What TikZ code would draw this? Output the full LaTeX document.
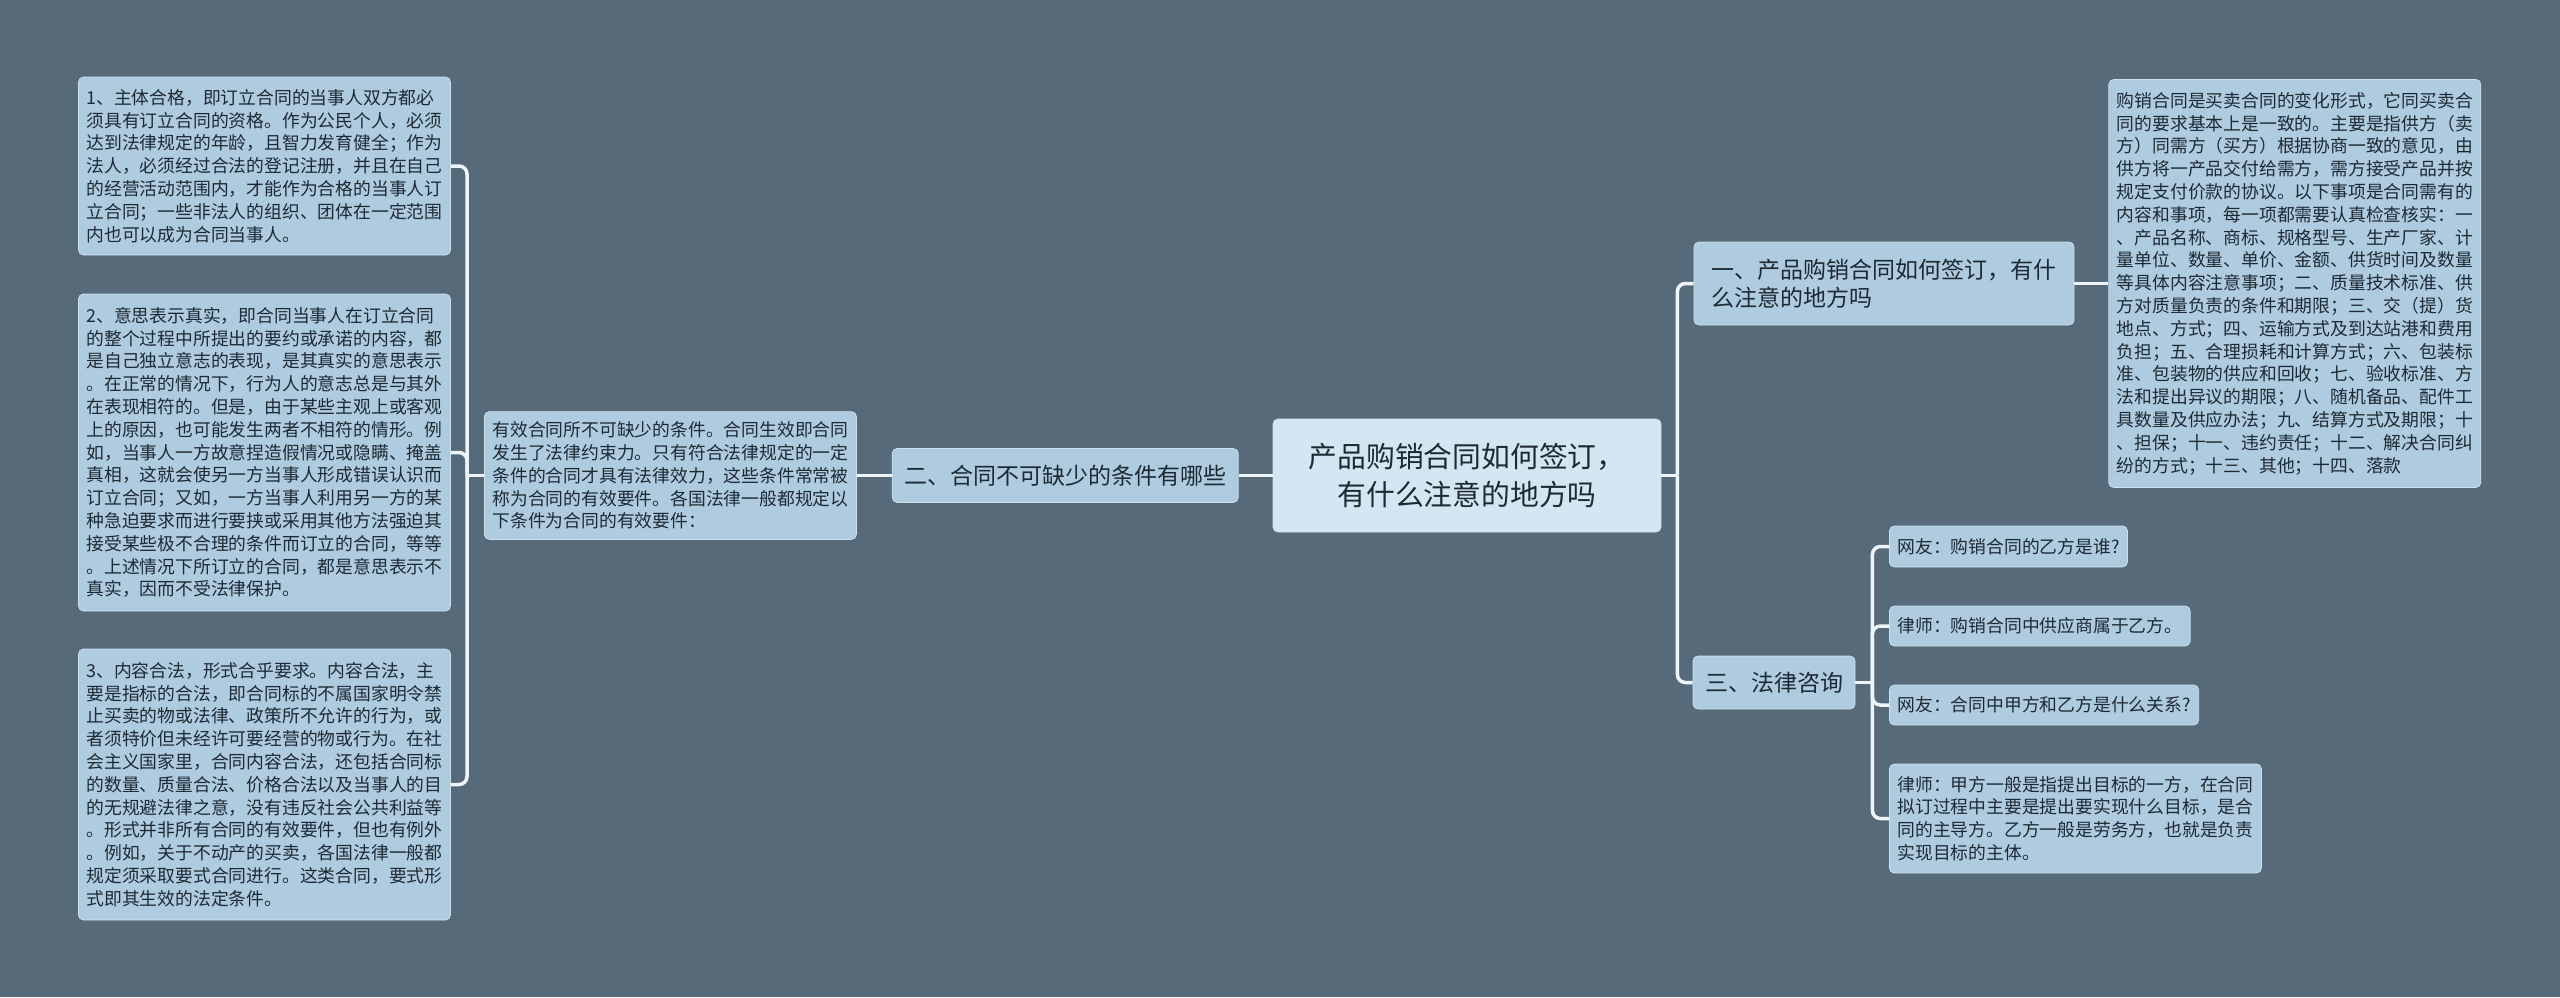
\documentclass[tikz,border=0pt]{standalone}
\usepackage{fontspec}
\setmainfont{Noto Sans CJK SC}
\usepackage{xcolor}
\usepackage{tikz}
\usetikzlibrary{positioning}

\definecolor{bgc}{HTML}{566A79}
\definecolor{nodefill}{HTML}{AECBE0}
\definecolor{rootfill}{HTML}{D3E7F3}
\definecolor{linec}{HTML}{EEF5FA}
\definecolor{textc}{HTML}{1E2A33}

\begin{document}
\begin{tikzpicture}[
    x=0.5pt, y=-0.5pt,
    leaf/.style={rectangle, rounded corners=2.5pt, fill=nodefill,
                 draw=nodefill!60!white, line width=0.4pt, text=textc,
                 font=\fontsize{8.9}{11.4}\selectfont, align=left,
                 inner xsep=4pt, inner ysep=5pt},
    topic/.style={leaf, font=\fontsize{11.5}{14}\selectfont,
                  inner xsep=6pt, inner ysep=6pt},
    central/.style={leaf, fill=rootfill, font=\fontsize{14.4}{19}\selectfont,
                    align=center, minimum width=194pt, minimum height=56.5pt},
    link/.style={draw=linec, line width=1.75pt, rounded corners=4pt},
    node distance=17pt
]
\fill[bgc] (0,0) rectangle (2560,997);
\useasboundingbox (0,0) rectangle (2560,997);

% centre
\node[central] (root) at (1467,475.5) {产品购销合同如何签订，\\ 有什么注意的地方吗};

% left branch
\node[topic, left=of root, minimum height=27pt] (cond) {二、合同不可缺少的条件有哪些};
\node[leaf, left=17.5pt of cond] (mid) {有效合同所不可缺少的条件。合同生效即合同\\
发生了法律约束力。只有符合法律规定的一定\\
条件的合同才具有法律效力，这些条件常常被\\
称为合同的有效要件。各国法律一般都规定以\\
下条件为合同的有效要件：};

\node[leaf, minimum height=89pt] (c1) at (264.5,166) {1、主体合格，即订立合同的当事人双方都必\\
须具有订立合同的资格。作为公民个人，必须\\
达到法律规定的年龄，且智力发育健全；作为\\
法人，必须经过合法的登记注册，并且在自己\\
的经营活动范围内，才能作为合格的当事人订\\
立合同；一些非法人的组织、团体在一定范围\\
内也可以成为合同当事人。};
\node[leaf, minimum height=158.5pt] (c2) at (264.5,452.5) {2、意思表示真实，即合同当事人在订立合同\\
的整个过程中所提出的要约或承诺的内容，都\\
是自己独立意志的表现，是其真实的意思表示\\
。在正常的情况下，行为人的意志总是与其外\\
在表现相符的。但是，由于某些主观上或客观\\
上的原因，也可能发生两者不相符的情形。例\\
如，当事人一方故意捏造假情况或隐瞒、掩盖\\
真相，这就会使另一方当事人形成错误认识而\\
订立合同；又如，一方当事人利用另一方的某\\
种急迫要求而进行要挟或采用其他方法强迫其\\
接受某些极不合理的条件而订立的合同，等等\\
。上述情况下所订立的合同，都是意思表示不\\
真实，因而不受法律保护。};
\node[leaf, minimum height=135.5pt] (c3) at (264.5,784.5) {3、内容合法，形式合乎要求。内容合法，主\\
要是指标的合法，即合同标的不属国家明令禁\\
止买卖的物或法律、政策所不允许的行为，或\\
者须特价但未经许可要经营的物或行为。在社\\
会主义国家里，合同内容合法，还包括合同标\\
的数量、质量合法、价格合法以及当事人的目\\
的无规避法律之意，没有违反社会公共利益等\\
。形式并非所有合同的有效要件，但也有例外\\
。例如，关于不动产的买卖，各国法律一般都\\
规定须采取要式合同进行。这类合同，要式形\\
式即其生效的法定条件。};

% right branch
\node[topic, minimum width=190pt, minimum height=41.5pt] (one) at (1884,283.5) {一、产品购销合同如何签订，有什\\ 么注意的地方吗};
\node[leaf, right=of one, minimum height=204pt] (spec) {购销合同是买卖合同的变化形式，它同买卖合\\
同的要求基本上是一致的。主要是指供方（卖\\
方）同需方（买方）根据协商一致的意见，由\\
供方将一产品交付给需方，需方接受产品并按\\
规定支付价款的协议。以下事项是合同需有的\\
内容和事项，每一项都需要认真检查核实：一\\
、产品名称、商标、规格型号、生产厂家、计\\
量单位、数量、单价、金额、供货时间及数量\\
等具体内容注意事项；二、质量技术标准、供\\
方对质量负责的条件和期限；三、交（提）货\\
地点、方式；四、运输方式及到达站港和费用\\
负担；五、合理损耗和计算方式；六、包装标\\
准、包装物的供应和回收；七、验收标准、方\\
法和提出异议的期限；八、随机备品、配件工\\
具数量及供应办法；九、结算方式及期限；十\\
、担保；十一、违约责任；十二、解决合同纠\\
纷的方式；十三、其他；十四、落款};

\node[topic, minimum height=26.5pt] (three) at (1774,682.5) {三、法律咨询};
\node[leaf, anchor=west, minimum height=20.5pt] (qa1) at (1889,546.5) {网友：购销合同的乙方是谁?};
\node[leaf, anchor=west, minimum height=20pt] (qa2) at (1889,626) {律师：购销合同中供应商属于乙方。};
\node[leaf, anchor=west, minimum height=20pt] (qa3) at (1889,705) {网友：合同中甲方和乙方是什么关系?};
\node[leaf, anchor=west, minimum height=54.5pt] (qa4) at (1889,818.5) {律师：甲方一般是指提出目标的一方，在合同\\
拟订过程中主要是提出要实现什么目标，是合\\
同的主导方。乙方一般是劳务方，也就是负责\\
实现目标的主体。};

% connectors
\coordinate (jr) at ([xshift=8pt]root.east);
\coordinate (jm) at ([xshift=-8.5pt]mid.west);
\coordinate (jq) at ([xshift=8.5pt]three.east);

\draw[link] (root.west) -- (cond.east);
\draw[link] (cond.west) -- (mid.east);
\draw[link] (mid.west) -- (jm);
\foreach \c in {c1,c2,c3}
    \draw[link] (jm) |- (\c.east);

\draw[link] (root.east) -- (jr);
\draw[link] (jr) |- (one.west);
\draw[link] (jr) |- (three.west);
\draw[link] (one.east) -- (spec.west);

\draw[link] (three.east) -- (jq);
\foreach \q in {qa1,qa2,qa3,qa4}
    \draw[link] (jq) |- (\q.west);
\end{tikzpicture}
\end{document}
